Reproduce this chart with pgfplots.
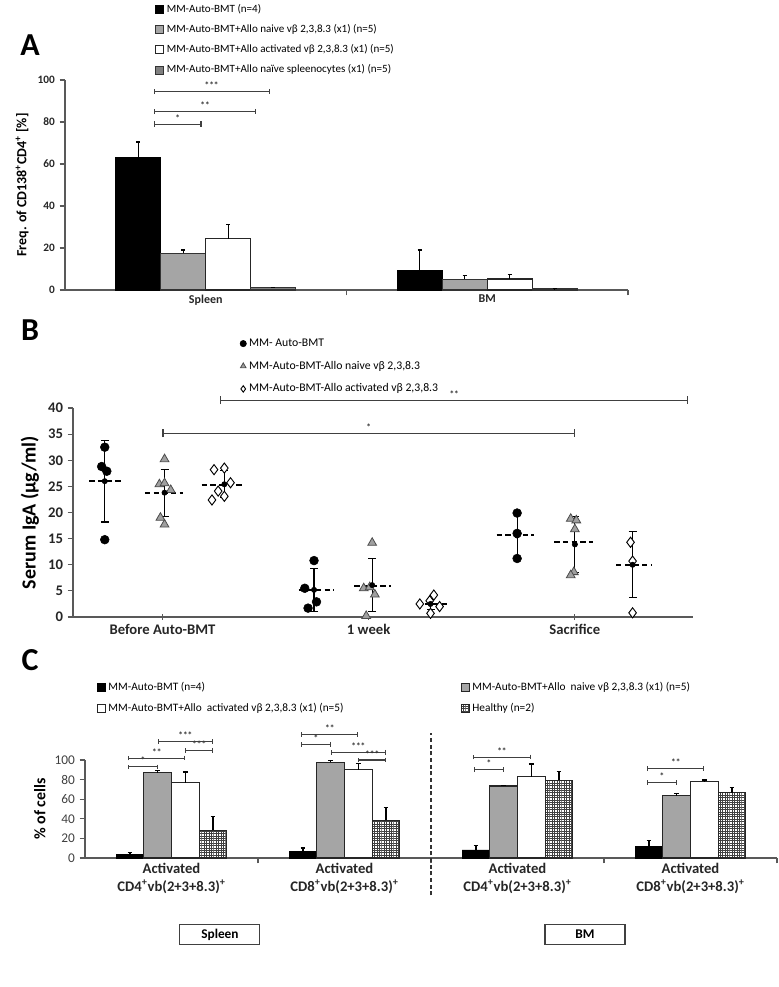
\documentclass[border=0pt]{standalone}
\usepackage{fontspec}
\setmainfont{Carlito}
\usepackage{pgfplots}
\pgfplotsset{compat=1.18}
\usetikzlibrary{arrows.meta,patterns.meta}

\definecolor{axgray}{HTML}{595959}
\definecolor{bargray}{HTML}{A5A5A5}
\definecolor{darkbar}{HTML}{808080}
\definecolor{trigray}{HTML}{A0A0A0}

\tikzdeclarepattern{
  name=finegrid, type=uncolored,
  bottom left={(-.2pt,-.2pt)}, top right={(1.8pt,1.8pt)},
  tile size={(1.8pt,1.8pt)},
  code={\draw[line width=0.35pt] (0,0) -- (1.8pt,0) (0,0) -- (0,1.8pt);}
}

\newcommand{\fs}[1]{\fontsize{#1}{#1}\selectfont}
% significance bracket: x1, x2, y, stars, cap size
\newcommand{\brk}[5]{%
  \draw[{Bar[width=#5]}-{Bar[width=#5]}, line width=0.8pt, black!75]
    (axis cs:#1,#3) -- (axis cs:#2,#3)
    node[midway, above=-1.5pt, font=\fs{7}\bfseries, black!80] {#4};}

\pgfplotsset{
  panel/.style={scale only axis, clip=false,
    axis lines*=left,
    axis line style={axgray, line width=0.9pt},
    tick style={axgray, line width=0.9pt},
    tick align=outside, major tick length=4pt,
    /pgf/number format/assume math mode=true,
    legend cell align=left,
  },
  sqlegend/.style={legend image code/.code={%
    \draw[##1, line width=0.6pt] (0pt,-3pt) rectangle (6pt,3pt);}},
}

\begin{document}
\begin{tikzpicture}
\useasboundingbox (0,0) rectangle (583.5pt,-740.25pt);

\node[font=\fs{24}\bfseries] at (22.5pt,-33.75pt) {A};
\node[font=\fs{24}\bfseries] at (22.5pt,-247.5pt) {B};
\node[font=\fs{24}\bfseries] at (22.5pt,-495pt) {C};

% ---------------- A ----------------
\begin{axis}[panel,
  at={(48.75pt,-217.5pt)}, anchor=south west,
  width=422.25pt, height=157.5pt,
  xmin=-0.5, xmax=1.5, ymin=0, ymax=100,
  ybar=0pt, bar width=0.16,
  ytick={0,20,...,100},
  xtick={0.5,1.5}, xticklabels={},
  extra x ticks={0,1}, extra x tick labels={Spleen,BM},
  extra x tick style={major tick length=0pt},
  yticklabel style={font=\fs{8.5}\bfseries, text=black!85},
  xticklabel style={font=\fs{9}\bfseries, text=black!85},
  ylabel={\bfseries Freq. of CD138\textsuperscript{+}CD4\textsuperscript{+} [\%]},
  ylabel style={font=\fs{10.5}},
  error bars/y dir=plus, error bars/y explicit,
  error bars/error bar style={line width=0.9pt, black},
  error bars/error mark options={rotate=90, mark size=1.6pt, line width=0.9pt, black},
  sqlegend,
  legend style={at={(0.16,1.375)}, anchor=north west, draw=none, fill=none,
    font=\fs{8.3}, row sep=3.6pt, inner sep=0pt},
]
\addplot[fill=black, draw=black, bar shift=-0.24]
  coordinates {(0,63) +- (0,7.5) (1,9.5) +- (0,9.5)};
\addlegendentry{MM-Auto-BMT (n=4)}
\addplot[fill=bargray, draw=black!80, line width=0.8pt, bar shift=-0.08]
  coordinates {(0,17.5) +- (0,1.5) (1,5.2) +- (0,1.6)};
\addlegendentry{MM-Auto-BMT+Allo naive vβ 2,3,8.3 (x1) (n=5)}
\addplot[fill=white, draw=black!85, line width=0.9pt, bar shift=0.08]
  coordinates {(0,24.5) +- (0,6.5) (1,5.2) +- (0,2.1)};
\addlegendentry{MM-Auto-BMT+Allo activated vβ 2,3,8.3 (x1) (n=5)}
\addplot[fill=darkbar, draw=black!80, line width=0.8pt, bar shift=0.24]
  coordinates {(0,1.0) +- (0,0.3) (1,0.5) +- (0,0.2)};
\addlegendentry{MM-Auto-BMT+Allo naïve spleenocytes (x1) (n=5)}
\brk{-0.185}{-0.015}{79}{*}{4pt}
\brk{-0.185}{0.18}{85}{**}{4pt}
\brk{-0.185}{0.227}{94.5}{***}{4pt}
\end{axis}

% ---------------- B ----------------
\begin{axis}[panel,
  at={(54.75pt,-462.75pt)}, anchor=south west,
  width=465pt, height=156.75pt,
  xmin=0.566, xmax=3.573, ymin=0, ymax=40,
  ytick={0,5,...,40},
  xtick={1,2,3}, xticklabels={Before Auto-BMT,1 week,Sacrifice},
  xtick align=center,
  yticklabel style={font=\fs{11}\bfseries, text=black!85},
  xticklabel style={font=\fs{11}\bfseries, text=black!85},
  ylabel={\bfseries Serum IgA (µg/ml)},
  ylabel style={font=\fs{15}},
  legend style={at={(0.269,1.345)}, anchor=north west, draw=none, fill=none,
    font=\fs{8.8}, row sep=5.5pt, inner sep=0pt},
  legend image post style={mark size=2.4pt},
]
\addplot[only marks, mark=*, mark size=3.3pt, black] coordinates {
  (0.72,32.5) (0.705,28.8) (0.73,27.9) (0.72,14.8)
  (1.735,10.8) (1.69,5.5) (1.747,2.9) (1.706,1.7)
  (2.72,19.9) (2.72,16.0) (2.72,11.2)};
\addlegendentry{MM- Auto-BMT}
\addplot[only marks, mark=triangle*, mark size=3.8pt,
  mark options={fill=trigray, draw=black!70, line width=0.6pt}] coordinates {
  (1.01,30.2) (0.985,25.4) (1.01,25.6) (1.04,24.3) (0.99,19.0) (1.01,17.7)
  (2.017,14.2) (1.976,5.5) (2.005,5.7) (2.03,4.3) (1.988,0.2)
  (2.98,18.8) (3.007,18.5) (3.0,16.8) (2.995,8.6) (2.98,8.0)};
\addlegendentry{MM-Auto-BMT-Allo naive vβ 2,3,8.3}
\addplot[only marks, mark=diamond*, mark size=3.8pt,
  mark options={fill=white, draw=black, line width=0.7pt}] coordinates {
  (1.25,28.2) (1.30,28.5) (1.33,25.7) (1.27,24.1) (1.30,23.1) (1.24,22.4)
  (2.316,4.2) (2.296,3.1) (2.248,2.5) (2.344,2.0) (2.30,0.7)
  (3.27,14.3) (3.28,10.7) (3.28,0.8)};
\addlegendentry{MM-Auto-BMT-Allo activated vβ 2,3,8.3}
% group means
\addplot[forget plot, black, line width=1.6pt, dash pattern=on 4pt off 2.5pt,
  unbounded coords=jump] coordinates {
  (0.645,26) (0.80,26) (nan,nan) (0.915,23.8) (1.10,23.8) (nan,nan)
  (1.19,25.3) (1.385,25.3) (nan,nan) (1.66,5.2) (1.83,5.2) (nan,nan)
  (1.93,6.0) (2.11,6.0) (nan,nan) (2.23,2.5) (2.39,2.5) (nan,nan)
  (2.62,15.7) (2.80,15.7) (nan,nan) (2.90,14.3) (3.09,14.3) (nan,nan)
  (3.20,10.0) (3.37,10.0)};
% SD bars
\addplot[forget plot, only marks, mark=none, black,
  error bars/.cd, y dir=both, y explicit,
  error bar style={line width=0.9pt, black},
  error mark options={rotate=90, mark size=3pt, line width=0.9pt, black}]
  coordinates {
  (0.72,26) +- (0,7.8) (1.01,23.8) +- (0,4.5) (1.30,25.4) +- (0,2.6)
  (1.735,5.2) +- (0,4.1) (2.017,6.1) +- (0,5.1) (2.30,2.5) +- (0,1.0)
  (2.72,15.6) +- (0,4.35) (3.0,13.9) +- (0,5.4) (3.28,10.0) +- (0,6.3)};
\brk{1.28}{3.55}{41.5}{**}{6pt}
\brk{1.0}{3.0}{35.2}{*}{6pt}
\end{axis}

% ---------------- C ----------------
\begin{axis}[panel,
  at={(63.75pt,-643.5pt)}, anchor=south west,
  width=519pt, height=73.5pt,
  xmin=0.5, xmax=4.5, ymin=0, ymax=100,
  ybar=0pt, bar width=0.16,
  ytick={0,20,...,100},
  xtick={1.5,2.5,3.5,4.5}, xticklabels={},
  extra x ticks={1,2,3,4},
  extra x tick labels={
    {Activated\\CD4\textsuperscript{+}vb(2+3+8.3)\textsuperscript{+}},
    {Activated\\CD8\textsuperscript{+}vb(2+3+8.3)\textsuperscript{+}},
    {Activated\\CD4\textsuperscript{+}vb(2+3+8.3)\textsuperscript{+}},
    {Activated\\CD8\textsuperscript{+}vb(2+3+8.3)\textsuperscript{+}}},
  extra x tick style={major tick length=0pt},
  xticklabel style={align=center, font=\fontsize{11}{13.5}\selectfont\bfseries, text=black!85},
  yticklabel style={font=\fs{10}, text=black!75},
  ylabel={\bfseries \% of cells},
  ylabel style={font=\fs{12}},
  error bars/y dir=plus, error bars/y explicit,
  error bars/error bar style={line width=0.9pt, black},
  error bars/error mark options={rotate=90, mark size=1.8pt, line width=0.9pt, black},
  sqlegend,
  legend columns=2,
  legend style={at={(0.017,1.82)}, anchor=north west, draw=none, fill=none,
    font=\fs{8.5}, row sep=4pt, inner sep=0pt,
    /tikz/every even column/.append style={column sep=86pt}},
]
\addplot[fill=black, draw=black, bar shift=-0.24] coordinates {
  (1,3.8) +- (0,1.8) (2,7.0) +- (0,3.2) (3,8.4) +- (0,4.6) (4,12.2) +- (0,5.8)};
\addlegendentry{MM-Auto-BMT (n=4)}
\addplot[fill=bargray, draw=black!85, line width=0.9pt, bar shift=-0.08] coordinates {
  (1,86.9) +- (0,2.7) (2,97.5) +- (0,2.3) (3,73.4) +- (0,0.6) (4,63.7) +- (0,1.8)};
\addlegendentry{MM-Auto-BMT+Allo\ \ naive vβ 2,3,8.3 (x1) (n=5)}
\addplot[fill=white, draw=black!85, line width=0.9pt, bar shift=0.08] coordinates {
  (1,77.0) +- (0,10.8) (2,90.3) +- (0,6.1) (3,82.8) +- (0,13.2) (4,77.7) +- (0,1.8)};
\addlegendentry{MM-Auto-BMT+Allo\ \ activated vβ 2,3,8.3 (x1) (n=5)}
\addplot[pattern=finegrid, pattern color=black!75, draw=black!85, line width=0.9pt,
  bar shift=0.24] coordinates {
  (1,28.2) +- (0,14.0) (2,38.4) +- (0,12.8) (3,79.5) +- (0,8.5) (4,66.6) +- (0,5.4)};
\addlegendentry{Healthy (n=2)}
% spleen CD4
\brk{0.75}{0.92}{93}{*}{3.5pt}
\brk{0.75}{1.08}{102}{**}{3.5pt}
\brk{1.08}{1.24}{110}{***}{3.5pt}
\brk{0.92}{1.24}{119}{***}{3.5pt}
% spleen CD8
\brk{1.75}{2.08}{126}{**}{3.5pt}
\brk{1.75}{1.92}{116}{*}{3.5pt}
\brk{1.92}{2.24}{108}{***}{3.5pt}
\brk{2.08}{2.24}{100}{***}{3.5pt}
% BM CD4
\brk{2.75}{2.92}{90}{*}{3.5pt}
\brk{2.74}{3.08}{103}{**}{3.5pt}
% BM CD8
\brk{3.75}{3.92}{77}{*}{3.5pt}
\brk{3.75}{4.08}{91}{**}{3.5pt}
\draw[line width=0.9pt, black!80, dash pattern=on 3pt off 2pt]
  (axis cs:2.5,-38) -- (axis cs:2.5,128);
\node[draw=black!75, line width=0.8pt, minimum width=60pt, minimum height=15pt,
  font=\fs{10}\bfseries] at (axis cs:1.28,-78) {Spleen};
\node[draw=black!75, line width=0.8pt, minimum width=60pt, minimum height=15pt,
  font=\fs{10}\bfseries] at (axis cs:3.39,-78) {BM};
\end{axis}
\end{tikzpicture}
\end{document}
